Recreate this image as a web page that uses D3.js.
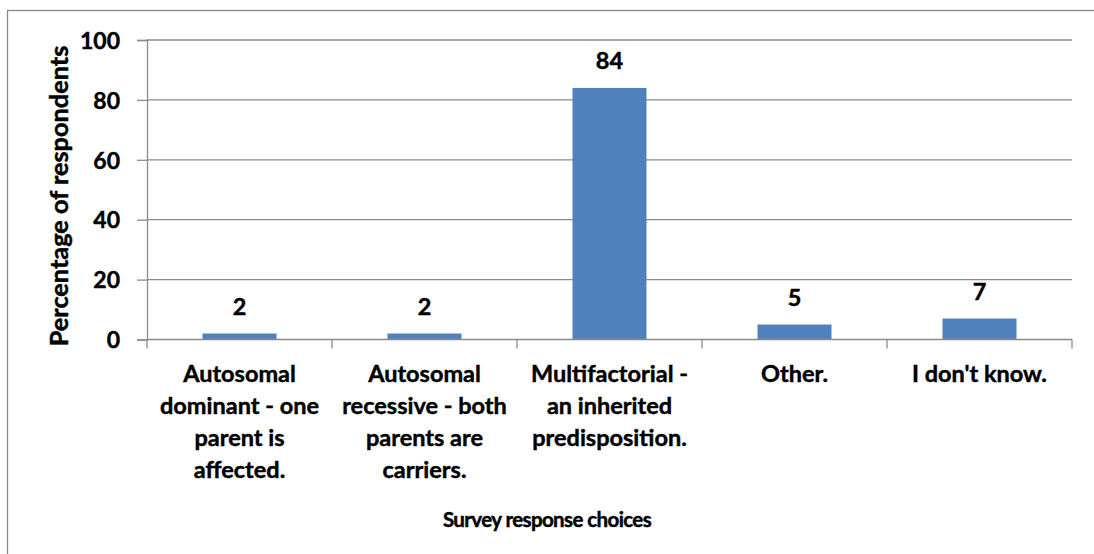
<!DOCTYPE html>
<html>
<head>
<meta charset="utf-8">
<script src="https://cdn.jsdelivr.net/npm/d3@7"></script>
<style>
  html, body { margin: 0; padding: 0; background: #ffffff; }
  svg { display: block; }
  text { font-family: Lato, "Open Sans", sans-serif; font-weight: bold; fill: #000; stroke: #000; stroke-width: 0.45px; }
</style>
</head>
<body>
<svg id="chart" width="1094" height="554"></svg>
<script>
// Survey answers and share of respondents (%)
const categories = [
  ["Autosomal", "dominant - one", "parent is", "affected."],
  ["Autosomal", "recessive - both", "parents are", "carriers."],
  ["Multifactorial -", "an inherited", "predisposition."],
  ["Other."],
  ["I don't know."]
];
const values = [2, 2, 84, 5, 7];
const yTicks = [0, 20, 40, 60, 80, 100];
const xTitle = "Survey response choices";
const yTitle = "Percentage of respondents";

const svg = d3.select("#chart");
const gridColor = "#8a8a8a";
const barColor = "#4f81bd";

const plot = { left: 147, right: 1072, top: 40, bottom: 339.5 };

// outer chart frame
svg.append("rect")
  .attr("x", 7.5).attr("y", 10.5)
  .attr("width", 1200).attr("height", 700)
  .attr("fill", "none").attr("stroke", "#8a8a8a").attr("stroke-width", 1.3);

const keys = categories.map((d, i) => i);
const x = d3.scaleBand().domain(keys).range([plot.left, plot.right]).paddingInner(0).paddingOuter(0);
const y = d3.scaleLinear().domain([0, 100]).range([plot.bottom, plot.top]);

// horizontal gridlines
svg.append("g")
  .selectAll("line")
  .data(yTicks.filter(t => t > 0))
  .join("line")
  .attr("x1", plot.left).attr("x2", plot.right)
  .attr("y1", d => y(d)).attr("y2", d => y(d))
  .attr("stroke", gridColor).attr("stroke-width", 1.3);

// y axis
const yAxis = svg.append("g")
  .attr("transform", `translate(${plot.left},0)`)
  .call(d3.axisLeft(y).tickValues(yTicks).tickSize(10).tickPadding(17).tickFormat(d3.format("d")));
yAxis.select(".domain").attr("stroke", gridColor).attr("stroke-width", 1.3);
yAxis.selectAll(".tick line").attr("stroke", gridColor).attr("stroke-width", 1.3);
yAxis.selectAll(".tick text")
  .attr("font-size", 23).attr("font-family", "Lato, sans-serif").attr("font-weight", "bold")
  .attr("fill", "#000").attr("dy", "0.36em");

// bars
const barW = x.bandwidth() * 0.4;
svg.append("g")
  .selectAll("rect")
  .data(values)
  .join("rect")
  .attr("x", (d, i) => x(i) + (x.bandwidth() - barW) / 2)
  .attr("y", d => y(d))
  .attr("width", barW)
  .attr("height", d => y(0) - y(d))
  .attr("fill", barColor);

// x axis with ticks between categories
svg.append("line")
  .attr("x1", plot.left).attr("x2", plot.right)
  .attr("y1", y(0)).attr("y2", y(0))
  .attr("stroke", gridColor).attr("stroke-width", 1.3);
const boundaries = keys.map(k => x(k)).concat([plot.right]);
svg.append("g")
  .selectAll("line")
  .data(boundaries)
  .join("line")
  .attr("x1", d => d).attr("x2", d => d)
  .attr("y1", y(0)).attr("y2", y(0) + 9)
  .attr("stroke", gridColor).attr("stroke-width", 1.3);

// category labels
const cat = svg.append("g")
  .selectAll("text")
  .data(categories)
  .join("text")
  .attr("x", (d, i) => x(i) + x.bandwidth() / 2)
  .attr("y", 382)
  .attr("text-anchor", "middle")
  .attr("font-size", 23.5);
cat.selectAll("tspan")
  .data(d => d)
  .join("tspan")
  .attr("x", function () { return this.parentNode.getAttribute("x"); })
  .attr("dy", (d, i) => i === 0 ? 0 : 32)
  .text(d => d);

// value labels above bars
svg.append("g")
  .selectAll("text")
  .data(values)
  .join("text")
  .attr("x", (d, i) => x(i) + x.bandwidth() / 2)
  .attr("y", d => y(d) - 19)
  .attr("text-anchor", "middle")
  .attr("font-size", 23.5)
  .text(d => d);

// axis titles
svg.append("text")
  .attr("x", 547).attr("y", 527)
  .attr("text-anchor", "middle")
  .attr("font-size", 20.5)
  .attr("letter-spacing", "-0.6px")
  .text(xTitle);

svg.append("text")
  .attr("transform", "translate(68,196) rotate(-90)")
  .attr("text-anchor", "middle")
  .attr("font-size", 25.3)
  .text(yTitle);
</script>
</body>
</html>
